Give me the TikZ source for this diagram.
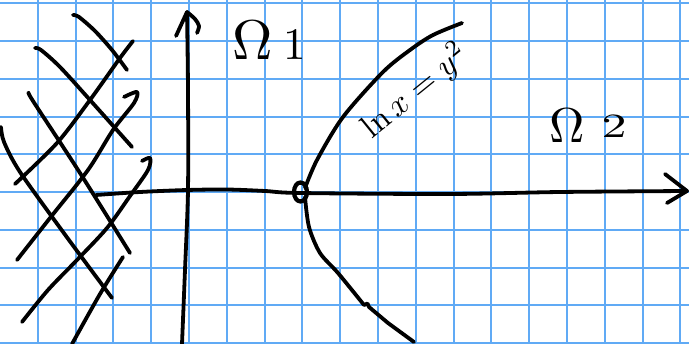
\documentclass[tikz,border=0pt]{standalone}
\usetikzlibrary{calc,shapes.geometric}
\definecolor{gridblue}{RGB}{96,170,245}
\begin{document}
\begin{tikzpicture}[x=1pt,y=-1pt,
  ink/.style={draw=black,line width=3.8pt,line cap=round,line join=round},
  gridline/.style={draw=gridblue,line width=2pt},
  lab/.style={inner sep=0pt,anchor=base west,text=black,font=\normalsize}]
\useasboundingbox (0,0) rectangle (689,344);
\fill[white] (0,0) rectangle (689,344);
% grid paper
\foreach \k in {1,...,18} \draw[gridline] (37.8*\k,0) -- (37.8*\k,344);
\foreach \k in {0,...,9} \draw[gridline] (0,3.3+37.75*\k) -- (689,3.3+37.75*\k);
% hatching
\draw[ink] plot[smooth] coordinates {(73,15) (79,17) (95,31) (112,50) (127,70)};
\draw[ink] plot[smooth] coordinates {(35,48) (41,50) (60,67) (90,100) (132,147)};
\draw[ink] plot[smooth] coordinates {(133,41) (120,58) (90,100) (57,143) (15,184)};
\draw[ink] plot[smooth] coordinates {(29,93) (33,101) (80,173) (130,253)};
\draw[ink] plot[smooth] coordinates {(124,97) (137,92) (134,103) (113,130) (88,170) (50,218) (17,260)};
\draw[ink] plot[smooth] coordinates {(1,127) (4,142) (20,172) (66,236) (112,298)};
\draw[ink] plot[smooth] coordinates {(142,161) (150,158) (148,170) (130,196) (107,228) (77,260) (48,290) (22,322)};
\draw[ink] plot[smooth] coordinates {(123,257) (100,294) (72,344)};
% axes
\coordinate (xs) at (96,195);
\coordinate (xt) at (687,191);
\coordinate (yt) at (187,12);
\coordinate (ys) at (182,344);
\draw[ink] plot[smooth] coordinates {(xs) (140,192) (187,190) (227,189.5) (265,191) (300,193) (450,194) (560,192) (xt)};
\draw[ink] (665,174) -- (xt) -- (667,203);
\draw[ink] plot[smooth] coordinates {(yt) (188,90) (188,190) (185,270) (ys)};
\draw[ink] (176,36) -- (yt);
\draw[ink] plot[smooth] coordinates {(yt) (195,19) (199,26) (197,33)};
% parabola ln x = y^2
\draw[ink] plot[smooth] coordinates {(305,188) (317,160) (343,117) (383,72) (410,50) (433,35) (462,23)};
\draw[ink] plot[smooth] coordinates {(305,197) (309,227) (320,253) (338,273) (364,305)};
\draw[ink] (364,305) -- (367.5,303.5) -- (369,307) -- (388,323) -- (414,342);
\node[draw=black,line width=4.2pt,ellipse,minimum width=13pt,minimum height=19pt,inner sep=0pt] (o) at (300.5,192) {};
% labels
\node[lab] (om1) at (232,60) {\scalebox{5.6}{$\Omega$}\hspace{11pt}\scalebox{4.5}{1}};
\node[lab] (om2) at (549,143) {\scalebox{4.9}{$\Omega$}\hspace{17pt}\raisebox{5pt}{\scalebox{5}[3.4]{2}}};
\node[inner sep=0pt,rotate=39] (eq) at (415,91) {\scalebox{3.3}{$\ln x=y^2$}};
\end{tikzpicture}
\end{document}
